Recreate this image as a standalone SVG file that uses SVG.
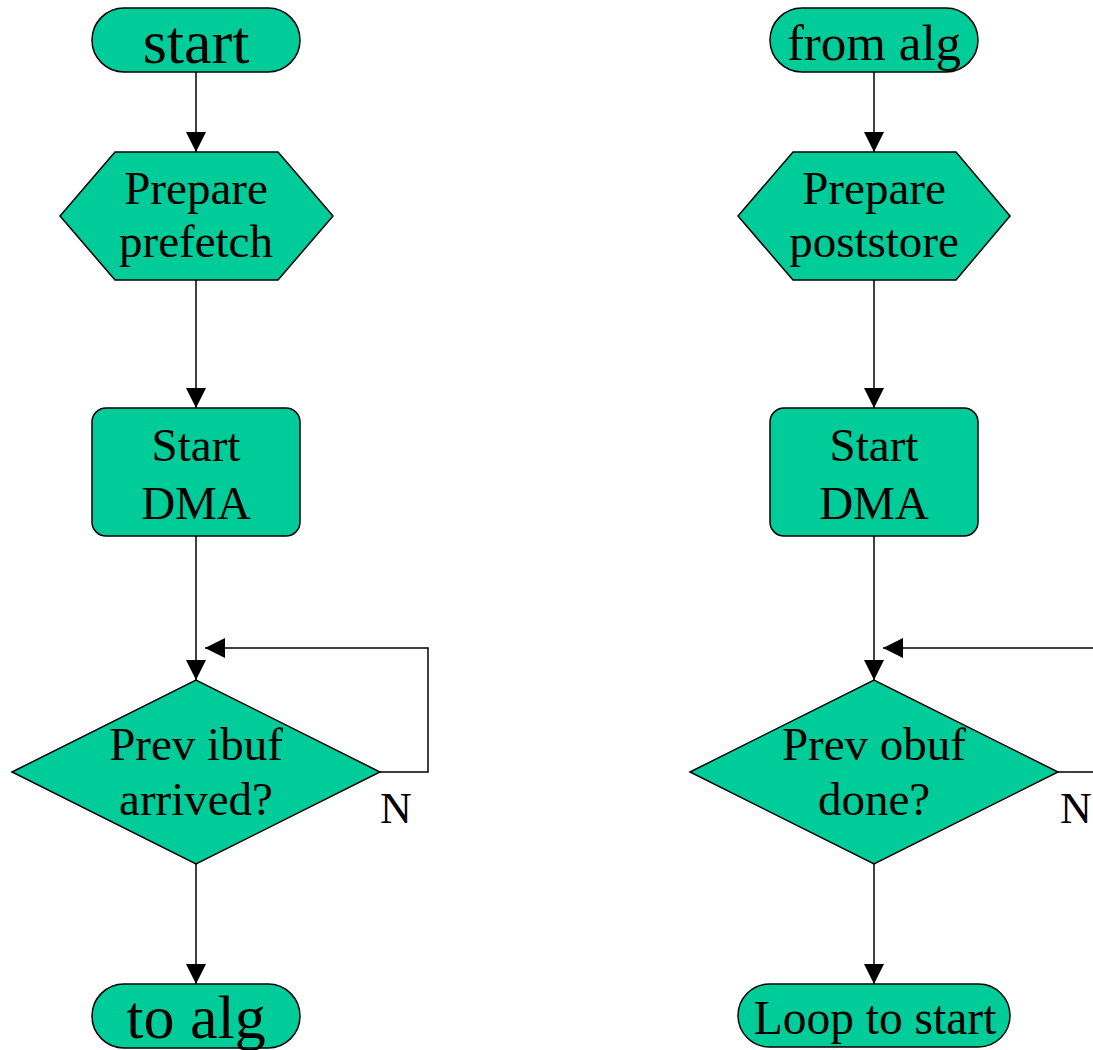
<svg xmlns="http://www.w3.org/2000/svg" width="1093" height="1050" viewBox="0 0 1093 1050">
  <style>
    .shape { fill: #00CC99; stroke: #000; stroke-width: 1.5; }
    .lbl { font-family: "Liberation Serif", "Times New Roman", serif; fill: #000; text-anchor: middle; }
    .edge { fill: none; stroke: #000; stroke-width: 1.5; }
  </style>
  <defs>
    <marker id="arrow" markerUnits="userSpaceOnUse" markerWidth="20" markerHeight="20" refX="20" refY="10" orient="auto">
      <path d="M0,0 L20,10 L0,20 Z" fill="#000"/>
    </marker>
  </defs>
  <rect width="1093" height="1050" fill="#fff"/>

  <!-- connectors -->
  <g id="connectors">
    <line class="edge" x1="196" y1="72" x2="196" y2="152" marker-end="url(#arrow)"/>
    <line class="edge" x1="196" y1="280" x2="196" y2="408" marker-end="url(#arrow)"/>
    <line class="edge" x1="196" y1="536" x2="196" y2="680" marker-end="url(#arrow)"/>
    <polyline class="edge" points="380,772 428,772 428,648 205,648" marker-end="url(#arrow)"/>
    <line class="edge" x1="196" y1="864" x2="196" y2="984" marker-end="url(#arrow)"/>
    <text class="lbl" x="396" y="823" font-size="44">N</text>

    <line class="edge" x1="874" y1="72" x2="874" y2="152" marker-end="url(#arrow)"/>
    <line class="edge" x1="874" y1="280" x2="874" y2="408" marker-end="url(#arrow)"/>
    <line class="edge" x1="874" y1="536" x2="874" y2="680" marker-end="url(#arrow)"/>
    <polyline class="edge" points="1058,772 1106,772 1106,648 883,648" marker-end="url(#arrow)"/>
    <line class="edge" x1="874" y1="864" x2="874" y2="984" marker-end="url(#arrow)"/>
    <text class="lbl" x="1076" y="823" font-size="44">N</text>
  </g>

  <!-- left column: prefetch -->
  <g id="start">
    <rect class="shape" x="92" y="8" width="208" height="64" rx="32" ry="32"/>
    <text class="lbl" x="196" y="63" font-size="62">start</text>
  </g>
  <g id="prepare-prefetch">
    <polygon class="shape" points="60,216 115,152 278,152 333,216 278,280 115,280"/>
    <text class="lbl" x="196" y="204" font-size="47">Prepare</text>
    <text class="lbl" x="196" y="257" font-size="47">prefetch</text>
  </g>
  <g id="start-dma-in">
    <rect class="shape" x="92" y="408" width="208" height="128" rx="14" ry="14"/>
    <text class="lbl" x="196" y="461" font-size="47">Start</text>
    <text class="lbl" x="196" y="519" font-size="47">DMA</text>
  </g>
  <g id="ibuf-arrived">
    <polygon class="shape" points="12,772 196,680 380,772 196,864"/>
    <text class="lbl" x="196" y="760" font-size="47">Prev ibuf</text>
    <text class="lbl" x="196" y="815" font-size="47">arrived?</text>
  </g>
  <g id="to-alg">
    <rect class="shape" x="92" y="984" width="208" height="64" rx="32" ry="32"/>
    <text class="lbl" x="196" y="1038" font-size="62">to alg</text>
  </g>

  <!-- right column: poststore -->
  <g id="from-alg">
    <rect class="shape" x="770" y="8" width="208" height="64" rx="32" ry="32"/>
    <text class="lbl" x="874" y="60" font-size="51">from alg</text>
  </g>
  <g id="prepare-poststore">
    <polygon class="shape" points="738,216 793,152 956,152 1010,216 956,280 793,280"/>
    <text class="lbl" x="874" y="204" font-size="47">Prepare</text>
    <text class="lbl" x="874" y="257" font-size="47">poststore</text>
  </g>
  <g id="start-dma-out">
    <rect class="shape" x="770" y="408" width="208" height="128" rx="14" ry="14"/>
    <text class="lbl" x="874" y="461" font-size="47">Start</text>
    <text class="lbl" x="874" y="519" font-size="47">DMA</text>
  </g>
  <g id="obuf-done">
    <polygon class="shape" points="690,772 874,680 1058,772 874,864"/>
    <text class="lbl" x="874" y="760" font-size="47">Prev obuf</text>
    <text class="lbl" x="874" y="815" font-size="47">done?</text>
  </g>
  <g id="loop-to-start">
    <rect class="shape" x="738" y="984" width="272" height="63" rx="31.5" ry="31.5"/>
    <text class="lbl" x="875" y="1034" font-size="47.5">Loop to start</text>
  </g>
</svg>
